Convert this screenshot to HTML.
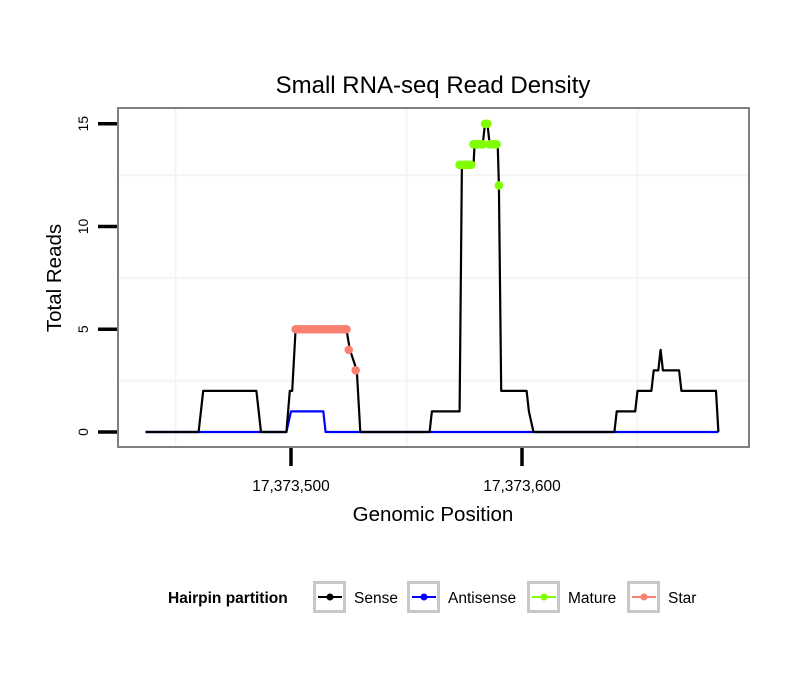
<!DOCTYPE html>
<html><head><meta charset="utf-8"><style>
body{margin:0;background:#fff}
svg{display:block;font-family:"Liberation Sans",sans-serif}
</style></head><body>
<svg id="chart" width="810" height="690">
<rect width="810" height="690" fill="#fff"/>
<text x="433" y="93" font-size="24" text-anchor="middle">Small RNA-seq Read Density</text>
<g id="grid"></g>
<g id="series"></g>
<rect x="118" y="108" width="631" height="339" fill="none" stroke="#7f7f7f" stroke-width="2"/>
<g id="axes"></g>
<text x="433" y="521" font-size="20.5" text-anchor="middle">Genomic Position</text>
<text transform="translate(61,278) rotate(-90)" font-size="20.5" text-anchor="middle">Total Reads</text>
<g>
<text x="168" y="603" font-size="15.5" font-weight="bold">Hairpin partition</text>
<g id="legend"></g>
</g>
</svg>
<script>
const BASE = 17373000;
const sensePos = [437,460,462,485,487,498,499.5,500.5,502,524,525.5,528.5,530,560,561,573,574,579,579.5,583,584,585,586,589.5,590,591,602,603,605,640,641,649,650,656,657,659,660,661,668,669,684,685];
const senseVal = [0,0,2,2,0,0,2,2,5,5,4,3,0,0,1,1,13,13,14,14,15,15,14,14,12,2,2,1,0,0,1,1,2,2,3,3,4,3,3,2,2,0];
const antiPos = [437,498,500,514,515,685];
const antiVal = [0,0,1,1,0,0];
const maturePos = [573,574,575,576,577,578,579,580,581,582,583,584,585,586,587,588,589,590];
const matureVal = [13,13,13,13,13,13,14,14,14,14,14,15,15,14,14,14,14,12];
const starPos = [502,503,504,505,506,507,508,509,510,511,512,513,514,515,516,517,518,519,520,521,522,523,524,525,528];
const starVal = [5,5,5,5,5,5,5,5,5,5,5,5,5,5,5,5,5,5,5,5,5,5,5,4,3];
const yTicks = [0,5,10,15];
const yMinor = [2.5,7.5,12.5];
const xTicks = [17373500,17373600];
const xTickLabels = ["17,373,500","17,373,600"];
const xMinor = [17373450,17373550,17373650];
const legendLabels = ["Sense","Antisense","Mature","Star"];
const legendColors = ["#000000","#0000ff","#7fff00","#fa8072"];

const NS="http://www.w3.org/2000/svg";
const xs = p => 291 + (p - 17373500) * 2.31;
const xr = p => xs(BASE + p);
const ys = v => 432 - v * 20.55;
function mk(tag, attrs, parent){const e=document.createElementNS(NS,tag);for(const k in attrs)e.setAttribute(k,attrs[k]);parent.appendChild(e);return e;}
const grid=document.getElementById('grid'), ser=document.getElementById('series'), ax=document.getElementById('axes'), lg=document.getElementById('legend');
yMinor.forEach(v=>{const l=mk('line',{x1:119,x2:748,y1:ys(v),y2:ys(v),stroke:'#f4f4f4','stroke-width':2},grid);

});
xMinor.forEach(v=>{const l=mk('line',{x1:xs(v),x2:xs(v),y1:109,y2:446,stroke:'#f4f4f4','stroke-width':2},grid);

});
function line(pos,val,color,w,name){const d=pos.map((p,i)=>(i?'L':'M')+xr(p).toFixed(1)+','+ys(val[i]).toFixed(1)).join('');
const e=mk('path',{d:d,fill:'none',stroke:color,'stroke-width':w,'stroke-linejoin':'round'},ser);

}
line(antiPos,antiVal,'#0000ff',2.2,'antisense-line');
line(sensePos,senseVal,'#000000',2.2,'sense-line');
function dots(pos,val,color,name){pos.forEach((p,i)=>{const c=mk('circle',{cx:xr(p),cy:ys(val[i]),r:4.3,fill:color},ser);

});}
dots(maturePos,matureVal,'#7fff00','mature-point');
dots(starPos,starVal,'#fa8072','star-point');
yTicks.forEach(v=>{const t=mk('line',{x1:98,x2:117,y1:ys(v),y2:ys(v),stroke:'#000','stroke-width':3.5},ax);


const tx=mk('text',{transform:`translate(88,${ys(v)}) rotate(-90)`,'font-size':14,'text-anchor':'middle'},ax);tx.textContent=v;

});
xTicks.forEach((v,i)=>{const t=mk('line',{x1:xs(v),x2:xs(v),y1:448,y2:466,stroke:'#000','stroke-width':3.5},ax);


const tx=mk('text',{x:xs(v),y:491,'font-size':15.5,'text-anchor':'middle'},ax);tx.textContent=xTickLabels[i];

});
const lx=[313,407,527,627];
const tx=[354,448,568,668];
legendLabels.forEach((lab,i)=>{const g=mk('g',{},lg);


mk('rect',{x:lx[i]+1.5,y:582.5,width:30,height:29,fill:'#fff',stroke:'#c8c8c8','stroke-width':3},g);
mk('line',{x1:lx[i]+5,x2:lx[i]+29,y1:597,y2:597,stroke:legendColors[i],'stroke-width':2},g);
mk('circle',{cx:lx[i]+17,cy:597,r:3.5,fill:legendColors[i]},g);
const t=mk('text',{x:tx[i],y:603,'font-size':15.5},g);t.textContent=lab;});
</script>
</body></html>
